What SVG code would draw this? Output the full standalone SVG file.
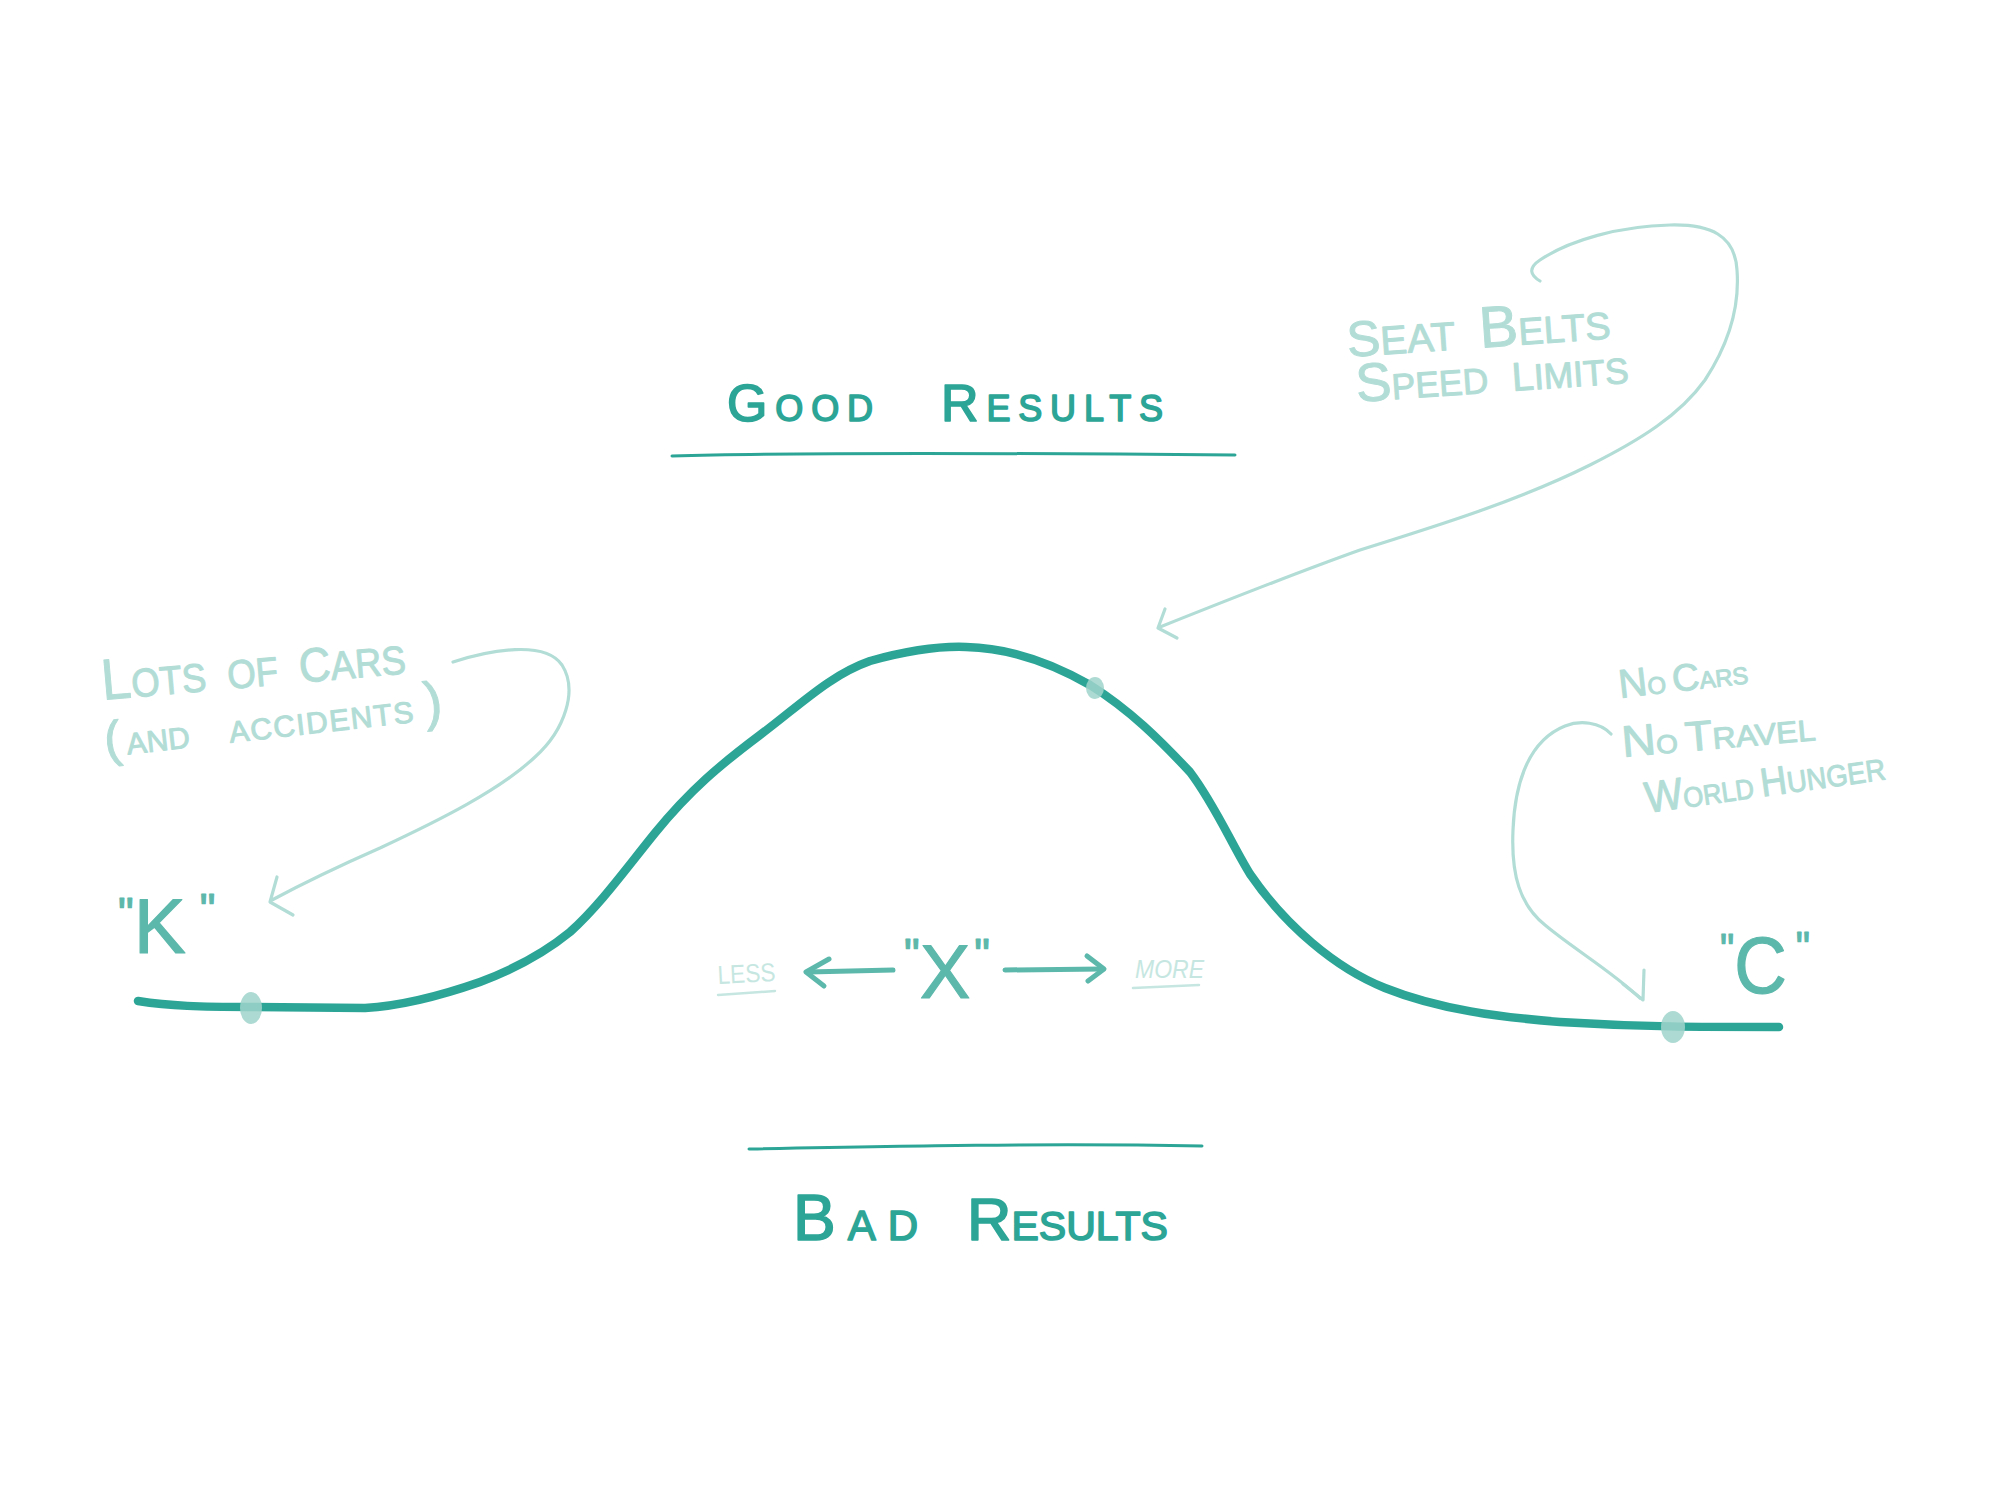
<svg xmlns="http://www.w3.org/2000/svg" width="2000" height="1499" viewBox="0 0 2000 1499">
<style>
.bg{fill:#ffffff}
.hand{font-family:"Liberation Sans","DejaVu Sans",sans-serif;stroke-linejoin:round}
.dark{fill:#2ca597;stroke:#2ca597;stroke-width:1.6}
.mid{fill:#5cb8ab;stroke:#5cb8ab;stroke-width:1.2}
.light{fill:#b2ddd6;stroke:#b2ddd6;stroke-width:1}
.faint{fill:#c6e7e1}
.curve{fill:none;stroke:#2ca597;stroke-width:8.5;stroke-linecap:round;stroke-linejoin:round}
.rule{fill:none;stroke:#2ca597;stroke-width:3;stroke-linecap:round}
.ann{fill:none;stroke:#b2ddd6;stroke-width:3.2;stroke-linecap:round;stroke-linejoin:round}
.axis{fill:none;stroke:#5cb8ab;stroke-width:5;stroke-linecap:round;stroke-linejoin:round}
.uline{fill:none;stroke:#c6e7e1;stroke-width:2.5;stroke-linecap:round}
.dot{fill:#9fd3ca;opacity:0.85}
</style>
<rect class="bg" x="0" y="0" width="2000" height="1499"/>

<g id="curve">
<path class="curve" d="M138,1001 C170,1006 200,1007 250,1007 L365,1008 C400,1006 440,996 480,982 C520,967 548,950 570,932 C600,905 625,870 655,833 C690,790 720,765 760,735 C800,705 830,675 870,661 C910,650 940,646 966,647 C1010,648 1050,662 1090,685 C1130,710 1160,740 1190,772 C1215,805 1232,845 1250,874 C1285,925 1335,968 1385,988 C1440,1010 1500,1017 1560,1022 C1640,1027 1700,1027 1779,1027"/>
<ellipse class="dot" cx="251" cy="1008" rx="11" ry="16"/>
<ellipse class="dot" cx="1095" cy="688" rx="9" ry="11"/>
<ellipse class="dot" cx="1673" cy="1027" rx="12" ry="16"/>
</g>

<g id="good-results">
<text class="hand dark" x="727" y="421" textLength="146" lengthAdjust="spacing"><tspan font-size="52">G</tspan><tspan font-size="36">OOD</tspan></text>
<text class="hand dark" x="941" y="421" textLength="222" lengthAdjust="spacing"><tspan font-size="52">R</tspan><tspan font-size="36">ESULTS</tspan></text>
<path class="rule" d="M672,456 C800,452 1000,453 1235,455"/>
</g>

<g id="bad-results">
<path class="rule" d="M749,1149 C900,1146 1050,1143 1202,1146"/>
<text class="hand dark" x="793" y="1240" textLength="125" lengthAdjust="spacing"><tspan font-size="64">B</tspan><tspan font-size="42">AD</tspan></text>
<text class="hand dark" x="967" y="1240" textLength="201" lengthAdjust="spacingAndGlyphs"><tspan font-size="60">R</tspan><tspan font-size="40">ESULTS</tspan></text>
</g>

<g id="label-k">
<text class="hand mid" x="118" y="953"><tspan font-size="44" dy="-24">"</tspan><tspan font-size="78" dy="24">K</tspan><tspan font-size="44" dy="-28" dx="14">"</tspan></text>
</g>

<g id="label-c">
<text class="hand mid" x="1720" y="993" textLength="90" lengthAdjust="spacingAndGlyphs"><tspan font-size="44" dy="-28">"</tspan><tspan font-size="80" dy="28">C</tspan><tspan font-size="44" dy="-30" dx="10">"</tspan></text>
</g>

<g id="label-x">
<text class="hand mid" x="904" y="998"><tspan font-size="44" dy="-28">"</tspan><tspan font-size="76" dy="28">X</tspan><tspan font-size="44" dy="-28" dx="4">"</tspan></text>
</g>

<g id="label-less">
<text class="hand faint" font-size="26" transform="translate(718,984) rotate(-3)" textLength="58" lengthAdjust="spacingAndGlyphs">LESS</text>
<path class="uline" d="M718,995 L775,991"/>
</g>

<g id="label-more">
<text class="hand faint" font-size="26" font-style="italic" x="1135" y="978" textLength="69" lengthAdjust="spacingAndGlyphs">MORE</text>
<path class="uline" d="M1133,988 L1199,985"/>
</g>

<g id="note-lots-of-cars">
<text class="hand light" transform="translate(103,700) rotate(-5)" textLength="305" lengthAdjust="spacingAndGlyphs" word-spacing="12"><tspan font-size="58">L</tspan><tspan font-size="40">OTS OF </tspan><tspan font-size="48">C</tspan><tspan font-size="40">ARS</tspan></text>
<text class="hand light" transform="translate(106,757) rotate(-6.5)"><tspan x="0" font-size="50">(</tspan><tspan x="22" font-size="30">AND </tspan><tspan x="125" font-size="30" letter-spacing="1.5">ACCIDENTS</tspan><tspan x="322" font-size="54">)</tspan></text>
</g>

<g id="note-seat-belts">
<text class="hand light" transform="translate(1348,357) rotate(-4)" textLength="264" lengthAdjust="spacingAndGlyphs" word-spacing="14"><tspan font-size="50">S</tspan><tspan font-size="40">EAT </tspan><tspan font-size="58">B</tspan><tspan font-size="38">ELTS</tspan></text>
<text class="hand light" transform="translate(1357,402) rotate(-4)" textLength="273" lengthAdjust="spacingAndGlyphs" word-spacing="14"><tspan font-size="54">S</tspan><tspan font-size="36">PEED </tspan><tspan font-size="40">L</tspan><tspan font-size="36">IMITS</tspan></text>
</g>

<g id="note-no-cars">
<text class="hand light" transform="translate(1620,698) rotate(-6.5)" textLength="130" lengthAdjust="spacingAndGlyphs"><tspan font-size="40">N</tspan><tspan font-size="24">O </tspan><tspan font-size="38">C</tspan><tspan font-size="24">ARS</tspan></text>
<text class="hand light" transform="translate(1623,757) rotate(-5)" textLength="194" lengthAdjust="spacingAndGlyphs"><tspan font-size="44">N</tspan><tspan font-size="26">O </tspan><tspan font-size="42">T</tspan><tspan font-size="30">RAVEL</tspan></text>
<text class="hand light" transform="translate(1647,813) rotate(-8)" textLength="242" lengthAdjust="spacingAndGlyphs"><tspan font-size="44">W</tspan><tspan font-size="28">ORLD </tspan><tspan font-size="40">H</tspan><tspan font-size="30">UNGER</tspan></text>
</g>

<g id="connectors">
<path class="ann" d="M453,662 C490,650 545,640 562,665 C578,690 565,730 535,757 C500,790 440,820 380,848 C330,870 300,885 272,900"/>
<path class="ann" d="M277,877 L270,902 L293,915"/>
<path class="ann" d="M1540,281 C1530,275 1528,268 1540,260 C1570,240 1620,226 1670,225 C1710,224 1735,235 1737,270 C1740,310 1728,345 1705,380 C1680,415 1640,440 1590,465 C1520,500 1440,525 1360,550 C1290,575 1220,603 1160,627"/>
<path class="ann" d="M1165,609 L1158,628 L1177,638"/>
<path class="ann" d="M1611,734 C1600,722 1580,720 1565,726 C1530,740 1515,780 1513,830 C1511,875 1520,905 1545,925 C1575,950 1610,970 1640,998"/>
<path class="ann" d="M1644,970 L1643,1000 L1623,984"/>
<path class="axis" d="M893,970 L808,972"/>
<path class="axis" d="M829,959 L806,972 L824,986"/>
<path class="axis" d="M1005,970 L1102,969"/>
<path class="axis" d="M1087,956 L1104,969 L1088,981"/>
</g>
</svg>
